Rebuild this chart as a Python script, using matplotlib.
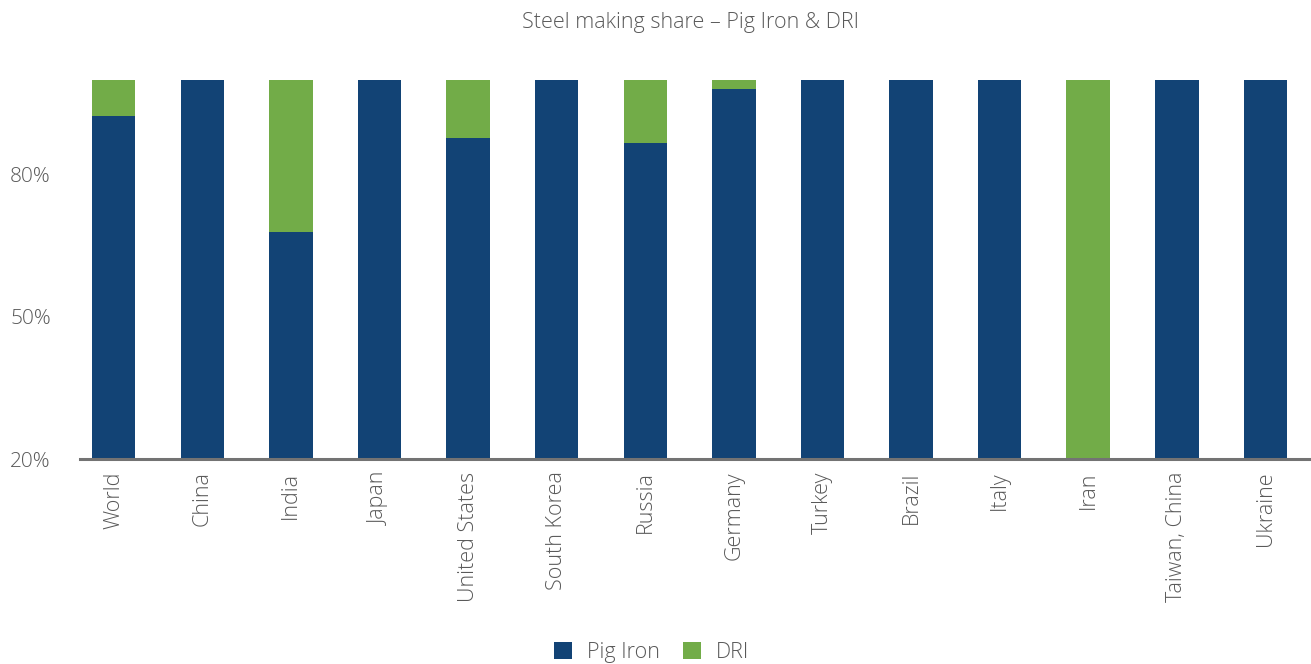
import numpy as np
import matplotlib.pyplot as plt
from matplotlib.ticker import FuncFormatter

countries = ["World", "China", "India", "Japan", "United States", "South Korea",
             "Russia", "Germany", "Turkey", "Brazil", "Italy", "Iran",
             "Taiwan, China", "Ukraine"]
pig_iron = [92.5, 100, 67.9, 100, 87.8, 100, 86.8, 98.0, 100, 100, 100, 0, 100, 100]
dri = [7.7, 0, 32.1, 0, 12.2, 0, 13.2, 2.0, 0, 0, 0, 100, 0, 0]

plt.rcParams['font.family'] = ['Open Sans', 'DejaVu Sans']
grey = '#595959'
blue = '#124375'
green = '#72ac48'

fig = plt.figure(figsize=(13.11, 6.64), dpi=100)
ax = fig.add_axes([0.061, 0.3087, 0.938, 0.5708])

x = np.arange(len(countries))
ax.bar(x, pig_iron, width=0.49, color=blue, label='Pig Iron')
ax.bar(x, dri, width=0.49, bottom=pig_iron, color=green, label='DRI')

ax.set_ylim(20, 100)
ax.set_xlim(-0.38, 13.5)
ax.set_yticks([20, 50, 80])
ax.yaxis.set_major_formatter(FuncFormatter(lambda v, p: f"{v:.0f}%"))
ax.set_xticks(x)
ax.set_xticklabels(countries, rotation=90)
ax.tick_params(axis='x', length=0, labelsize=15.5, colors=grey, pad=9)
ax.tick_params(axis='y', length=0, labelsize=15, colors=grey, pad=21)
for lab in ax.get_yticklabels() + ax.get_xticklabels():
    lab.set_fontweight('light')

for s in ['top', 'right', 'left']:
    ax.spines[s].set_visible(False)
ax.spines['bottom'].set_color('#737373')
ax.spines['bottom'].set_linewidth(2.2)

fig.text(0.527, 0.966, "Steel making share – Pig Iron & DRI", ha='center', va='center',
         fontsize=15.5, color=grey, fontweight='light')

leg = fig.legend(loc='center', bbox_to_anchor=(0.497, 0.018), ncol=2, frameon=False,
                 fontsize=15.5, handlelength=0.85, handleheight=0.85, columnspacing=1.05,
                 handletextpad=0.7)
for t in leg.get_texts():
    t.set_color(grey)
    t.set_fontweight('light')

fig.savefig('out.png', dpi=100)
